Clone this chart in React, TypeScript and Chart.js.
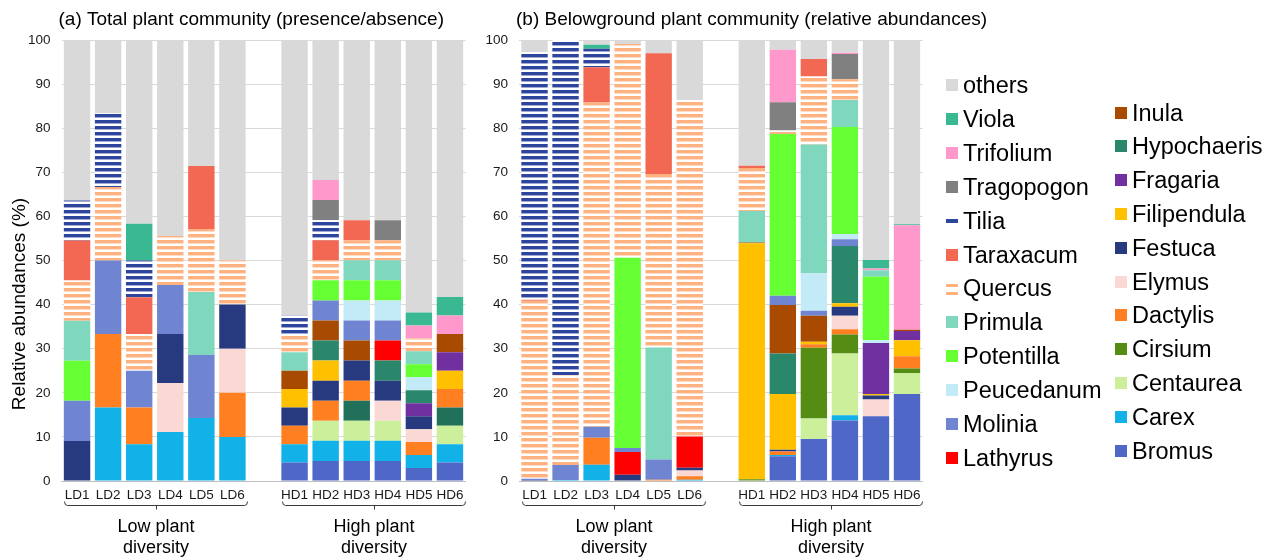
import React, { useEffect, useRef } from "react";
import { Chart, registerables } from "chart.js";
Chart.register(...registerables);

const FONT = "'Liberation Sans', Arial, Helvetica, sans-serif";
Chart.defaults.font.family = FONT;

// ---------- categories ----------
const categories = ["LD1", "LD2", "LD3", "LD4", "LD5", "LD6", "", "HD1", "HD2", "HD3", "HD4", "HD5", "HD6"];
const lowLabel = ["Low plant", "diversity"];
const highLabel = ["High plant", "diversity"];
const titleA = "(a) Total plant community (presence/absence)";
const titleB = "(b) Belowground plant community (relative abundances)";
const yTitle = "Relative abundances (%)";
const yTicks = [0, 10, 20, 30, 40, 50, 60, 70, 80, 90, 100];

// species, stacked bottom -> top
const species = [
  "Bromus", "Carex", "Centaurea", "Cirsium", "Dactylis", "Elymus", "Festuca", "Filipendula",
  "Fragaria", "Hypochaeris", "Inula", "Lathyrus", "Molinia", "Peucedanum", "Potentilla",
  "Primula", "Quercus", "Taraxacum", "Tilia", "Tragopogon", "Trifolium", "Viola", "others",
];
const speciesColors = [
  "#4F67C7", "#12B1E8", "#CCEF9B", "#548C14", "#FF7F21", "#FAD9D4", "#283A7F", "#FFC000",
  "#7030A0", "#2B876B", "#A84A00", "#FF0000", "#7085D1", "#C2EAF7", "#66FF33",
  "#7FD8BD", "#FFB27F", "#F36852", "#2E459E", "#808080", "#FF99CC", "#3AB891", "#D9D9D9",
];
const cirsiumColorA = "#21705A";
const stripedSpecies = ["Quercus", "Tilia"];

// ---------- (a) presence/absence, % ----------
const aBromus = [0, 0, 0, 0, 0, 0, null, 4.17, 4.55, 4.55, 4.55, 2.94, 4.17];
const aCarex = [0, 16.67, 8.33, 11.11, 14.29, 10, null, 4.17, 4.55, 4.55, 4.55, 2.94, 4.17];
const aCentaurea = [0, 0, 0, 0, 0, 0, null, 0, 4.55, 4.55, 4.55, 0, 4.17];
const aCirsium = [0, 0, 0, 0, 0, 0, null, 0, 0, 4.55, 0, 0, 4.17];
const aDactylis = [0, 16.67, 8.33, 0, 0, 10, null, 4.17, 4.55, 4.55, 0, 2.94, 4.17];
const aElymus = [0, 0, 0, 11.11, 0, 10, null, 0, 0, 0, 4.55, 2.94, 0];
const aFestuca = [9.09, 0, 0, 11.11, 0, 10, null, 4.17, 4.55, 4.55, 4.55, 2.94, 0];
const aFilipendula = [0, 0, 0, 0, 0, 0, null, 4.17, 4.55, 0, 0, 0, 4.17];
const aFragaria = [0, 0, 0, 0, 0, 0, null, 0, 0, 0, 0, 2.94, 4.17];
const aHypochaeris = [0, 0, 0, 0, 0, 0, null, 0, 4.55, 0, 4.55, 2.94, 0];
const aInula = [0, 0, 0, 0, 0, 0, null, 4.17, 4.55, 4.55, 0, 0, 4.17];
const aLathyrus = [0, 0, 0, 0, 0, 0, null, 0, 0, 0, 4.55, 0, 0];
const aMolinia = [9.09, 16.67, 8.33, 11.11, 14.29, 0, null, 0, 4.55, 4.55, 4.55, 0, 0];
const aPeucedanum = [0, 0, 0, 0, 0, 0, null, 0, 0, 4.55, 4.55, 2.94, 0];
const aPotentilla = [9.09, 0, 0, 0, 0, 0, null, 0, 4.55, 4.55, 4.55, 2.94, 0];
const aPrimula = [9.09, 0, 0, 0, 14.29, 0, null, 4.17, 0, 4.55, 4.55, 2.94, 0];
const aQuercus = [9.09, 16.67, 8.33, 11.11, 14.29, 10, null, 4.17, 4.55, 4.55, 4.55, 2.94, 0];
const aTaraxacum = [9.09, 0, 8.33, 0, 14.29, 0, null, 0, 4.55, 4.55, 0, 0, 0];
const aTilia = [9.09, 16.67, 8.33, 0, 0, 0, null, 4.17, 4.55, 0, 0, 0, 0];
const aTragopogon = [0, 0, 0, 0, 0, 0, null, 0, 4.55, 0, 4.55, 0, 0];
const aTrifolium = [0, 0, 0, 0, 0, 0, null, 0, 4.55, 0, 0, 2.94, 4.17];
const aViola = [0, 0, 8.33, 0, 0, 0, null, 0, 0, 0, 0, 2.94, 4.17];
const aOthers = [36.36, 16.67, 41.67, 44.44, 28.57, 50, null, 62.5, 31.82, 40.91, 40.91, 61.76, 58.33];

// ---------- (b) belowground relative abundances, % ----------
const bBromus = [0, 0, 0, 0, 0, 0, null, 0, 5.6, 9.5, 13.7, 14.7, 19.7];
const bCarex = [0, 0.2, 3.7, 0, 0, 0.3, null, 0, 0.3, 0, 1.2, 0, 0];
const bCentaurea = [0, 0, 0, 0, 0, 0, null, 0, 0, 4.7, 14.0, 0, 4.8];
const bCirsium = [0, 0, 0, 0, 0, 0, null, 0.4, 0, 16.0, 4.3, 0, 1.0];
const bDactylis = [0, 0, 6.1, 0, 0.3, 0.8, null, 0, 0.8, 0.8, 1.2, 0, 2.8];
const bElymus = [0, 0, 0, 0, 0, 1.3, null, 0, 0, 0, 3.1, 3.8, 0];
const bFestuca = [0.2, 0, 0, 1.4, 0, 0.6, null, 0, 0.4, 0, 2.0, 0.9, 0];
const bFilipendula = [0, 0, 0, 0, 0, 0, null, 53.5, 12.6, 0.6, 0.8, 0.3, 3.6];
const bFragaria = [0, 0, 0, 0, 0, 0, null, 0, 0, 0, 0, 11.6, 2.1];
const bHypochaeris = [0, 0, 0, 0, 0, 0, null, 0, 9.2, 0, 13.0, 0, 0];
const bInula = [0, 0, 0, 0, 0, 0, null, 0.2, 11.0, 5.9, 0, 0, 0.3];
const bLathyrus = [0, 0, 0, 5.2, 0, 7.1, null, 0, 0, 0, 0, 0, 0];
const bMolinia = [0.3, 3.4, 2.5, 0.9, 4.6, 0, null, 0, 2.1, 1.1, 1.5, 0, 0];
const bPeucedanum = [0, 0, 0, 0, 0, 0, null, 0, 0, 8.5, 1.2, 0.6, 0];
const bPotentilla = [0, 0, 0, 43.1, 0, 0, null, 0, 36.7, 0, 24.3, 14.4, 0];
const bPrimula = [0, 0, 0, 0, 25.4, 0, null, 7.1, 0, 29.2, 6.1, 1.5, 0];
const bQuercus = [40.4, 20.4, 73.5, 48.5, 39.3, 76.3, null, 9.8, 0.8, 15.4, 4.7, 0, 0];
const bTaraxacum = [0.2, 0, 8.0, 0, 27.4, 0, null, 0.5, 0, 4.0, 0, 0, 0];
const bTilia = [56.1, 76.0, 4.2, 0, 0, 0, null, 0, 0, 0, 0, 0, 0];
const bTragopogon = [0, 0, 0, 0, 0, 0, null, 0, 6.4, 0, 5.7, 0, 0];
const bTrifolium = [0, 0, 0, 0, 0, 0, null, 0, 11.9, 0, 0.3, 0.4, 23.7];
const bViola = [0, 0, 0.9, 0, 0, 0, null, 0, 0, 0, 0, 1.9, 0.2];
const bOthers = [2.8, 0, 1.1, 0.9, 3.0, 13.6, null, 28.5, 2.2, 4.3, 2.9, 49.9, 41.8];

const seriesA = [
  aBromus, aCarex, aCentaurea, aCirsium, aDactylis, aElymus, aFestuca, aFilipendula,
  aFragaria, aHypochaeris, aInula, aLathyrus, aMolinia, aPeucedanum, aPotentilla,
  aPrimula, aQuercus, aTaraxacum, aTilia, aTragopogon, aTrifolium, aViola, aOthers,
];
const seriesB = [
  bBromus, bCarex, bCentaurea, bCirsium, bDactylis, bElymus, bFestuca, bFilipendula,
  bFragaria, bHypochaeris, bInula, bLathyrus, bMolinia, bPeucedanum, bPotentilla,
  bPrimula, bQuercus, bTaraxacum, bTilia, bTragopogon, bTrifolium, bViola, bOthers,
];

function makeStripes(color: string): CanvasPattern | string {
  const c = document.createElement("canvas");
  c.width = 4;
  c.height = 6;
  const g = c.getContext("2d");
  if (!g) return color;
  g.fillStyle = "#ffffff";
  g.fillRect(0, 0, 4, 6);
  g.fillStyle = color;
  g.fillRect(0, 0, 4, 3);
  g.globalAlpha = 0.45;
  g.fillRect(0, 3, 4, 1);
  g.globalAlpha = 1;
  const p = g.createPattern(c, "repeat");
  return p || color;
}

function buildDatasets(series: (number | null)[][], panel: "a" | "b") {
  return species.map((name, i) => {
    let bg: any = speciesColors[i];
    if (panel === "a" && name === "Cirsium") bg = cirsiumColorA;
    if (stripedSpecies.includes(name)) bg = makeStripes(speciesColors[i]);
    return {
      label: name,
      data: series[i],
      backgroundColor: bg,
      borderWidth: 0,
      barPercentage: 0.85,
      categoryPercentage: 1,
    };
  });
}

function annotPlugin(title: string, drawYTitle: boolean) {
  return {
    id: "annot",
    afterDraw(chart: any) {
      const ctx = chart.ctx;
      const xs = chart.scales.x;
      const area = chart.chartArea;
      ctx.save();
      ctx.fillStyle = "#000";
      ctx.font = `19px ${FONT}`;
      ctx.textBaseline = "middle";
      ctx.textAlign = "left";
      ctx.fillText(title, area.left - 3, 20);

      const groups: [number, number, string[]][] = [
        [0, 5, lowLabel],
        [7, 12, highLabel],
      ];
      for (const [a, b, lab] of groups) {
        const x0 = Math.round(xs.getPixelForValue(a) - 13) + 0.5;
        const x1 = Math.round(xs.getPixelForValue(b) + 15) + 0.5;
        const xc = Math.round((x0 + x1) / 2) + 0.5;
        const y = 505.5;
        ctx.strokeStyle = "#3a3a3a";
        ctx.lineWidth = 1;
        ctx.beginPath();
        ctx.moveTo(x0, y - 4);
        ctx.quadraticCurveTo(x0, y, x0 + 3, y);
        ctx.lineTo(x1 - 3, y);
        ctx.quadraticCurveTo(x1, y, x1, y - 4);
        ctx.moveTo(xc, y);
        ctx.lineTo(xc, y + 4);
        ctx.stroke();
        ctx.fillStyle = "#000";
        ctx.font = `18px ${FONT}`;
        ctx.textAlign = "center";
        ctx.textBaseline = "middle";
        ctx.fillText(lab[0], (x0 + x1) / 2, 527);
        ctx.fillText(lab[1], (x0 + x1) / 2, 548);
      }

      if (drawYTitle) {
        ctx.translate(20, 304);
        ctx.rotate(-Math.PI / 2);
        ctx.font = `19px ${FONT}`;
        ctx.textAlign = "center";
        ctx.textBaseline = "middle";
        ctx.fillStyle = "#000";
        ctx.fillText(yTitle, 0, 0);
      }
      ctx.restore();
    },
  };
}

function makeConfig(series: (number | null)[][], panel: "a" | "b", yWidth: number, padRight: number, title: string, drawYTitle: boolean): any {
  return {
    type: "bar",
    data: { labels: categories, datasets: buildDatasets(series, panel) },
    options: {
      animation: false,
      responsive: false,
      devicePixelRatio: 1,
      layout: { padding: { left: 0, right: padRight, top: 40, bottom: 0 } },
      plugins: { legend: { display: false }, tooltip: { enabled: false } },
      scales: {
        x: {
          stacked: true,
          grid: { display: false, drawTicks: false },
          border: { display: true, color: "#BFBFBF", width: 1 },
          ticks: { color: "#1a1a1a", font: { size: 13.5 }, padding: 6, autoSkip: false, maxRotation: 0 },
          afterFit: (s: any) => {
            s.height = 78;
          },
        },
        y: {
          stacked: true,
          min: 0,
          max: 100,
          afterBuildTicks: (s: any) => {
            s.ticks = yTicks.map((v) => ({ value: v }));
          },
          grid: { color: "#D9D9D9", lineWidth: 1, drawTicks: false },
          border: { display: false },
          ticks: { color: "#1a1a1a", font: { size: 13.5 }, padding: 11 },
          afterFit: (s: any) => {
            s.width = yWidth;
          },
        },
      },
    },
    plugins: [annotPlugin(title, drawYTitle)],
  };
}

function Legend() {
  const rev = [...species].reverse();
  const col1 = rev.slice(0, 12);
  const col2 = rev.slice(12);
  const colorOf = (n: string) => speciesColors[species.indexOf(n)];
  const item = (name: string, sx: number, tx: number, cy: number) => {
    let sw: React.ReactNode;
    if (name === "Tilia") {
      sw = <div style={{ position: "absolute", left: sx, top: cy - 2, width: 12, height: 4, background: colorOf(name) }} />;
    } else if (name === "Quercus") {
      sw = (
        <>
          <div style={{ position: "absolute", left: sx, top: cy - 4, width: 12, height: 3, background: colorOf(name) }} />
          <div style={{ position: "absolute", left: sx, top: cy + 4, width: 12, height: 3, background: colorOf(name) }} />
        </>
      );
    } else {
      sw = <div style={{ position: "absolute", left: sx, top: cy - 6, width: 12, height: 12, background: colorOf(name) }} />;
    }
    return (
      <React.Fragment key={name}>
        {sw}
        <div
          style={{
            position: "absolute",
            left: tx,
            top: cy - 12,
            height: 24,
            lineHeight: "24px",
            fontSize: 23.5,
            fontFamily: FONT,
            color: "#000",
            whiteSpace: "nowrap",
          }}
        >
          {name}
        </div>
      </React.Fragment>
    );
  };
  return (
    <>
      {col1.map((n, i) => item(n, 946, 963, 85 + i * 33.9))}
      {col2.map((n, i) => item(n, 1115, 1132, 112.5 + i * 33.8))}
    </>
  );
}

export default function App() {
  const refA = useRef<HTMLCanvasElement>(null);
  const refB = useRef<HTMLCanvasElement>(null);
  useEffect(() => {
    if (!refA.current || !refB.current) return;
    const ca = new Chart(refA.current, makeConfig(seriesA, "a", 61.5, 14.5, titleA, true));
    const cb = new Chart(refB.current, makeConfig(seriesB, "b", 39, 343.5, titleB, false));
    return () => {
      ca.destroy();
      cb.destroy();
    };
  }, []);
  return (
    <div style={{ position: "absolute", left: 0, top: 0, width: 1266, height: 559, background: "#fff", overflow: "hidden" }}>
      <canvas ref={refA} width={480} height={559} style={{ position: "absolute", left: 0, top: 0, width: 480, height: 559 }} />
      <canvas ref={refB} width={786} height={559} style={{ position: "absolute", left: 480, top: 0, width: 786, height: 559 }} />
      <Legend />
    </div>
  );
}
